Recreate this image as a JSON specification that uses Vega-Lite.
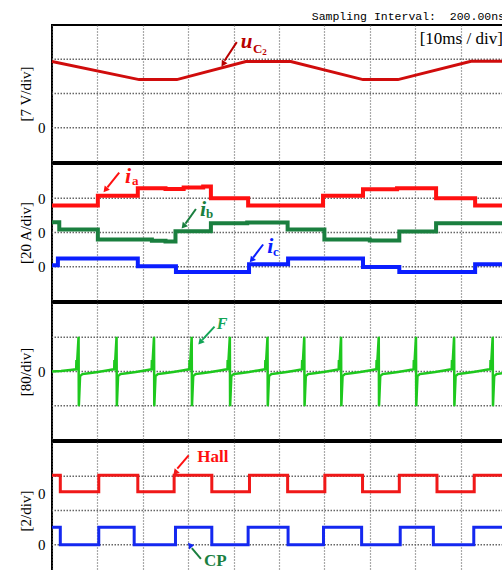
{
  "$schema": "https://vega.github.io/schema/vega-lite/v6.json",
  "padding": {"left": 17, "top": 10, "right": 0, "bottom": 0},
  "title": {"text": "Sampling Interval:\u00a0 200.00ns", "anchor": "end", "font": "Liberation Mono", "fontSize": 11.5, "fontWeight": "normal", "color": "black", "offset": 2, "dx": -10},
  "spacing": 0,
  "config": {
    "view": {"stroke": "black", "strokeWidth": 2},
    "axisX": {"grid": true, "values": [10, 20, 30, 40, 50, 60, 70, 80, 90], "labels": false, "ticks": false, "domain": false, "gridColor": "#555", "gridDash": [1, 2], "gridWidth": 1.2},
    "axisY": {"grid": false, "ticks": false, "domain": false, "labelExpr": "'0'", "titleFont": "Liberation Serif", "titleFontSize": 15, "titleFontWeight": "normal", "titleColor": "black", "labelFont": "Liberation Serif", "labelFontSize": 15, "labelColor": "black", "labelPadding": 7, "titlePadding": 4}
  },
  "datasets": {
    "g1": [{"v": 0}, {"v": 7}, {"v": 14}],
    "g2": [{"v": 0}, {"v": 20}, {"v": 40}],
    "g3": [{"v": -80}, {"v": 0}, {"v": 80}],
    "g4": [{"v": 0}, {"v": 2}, {"v": 4}],
    "uc2": [{"t": 0, "v": 13.55}, {"t": 19.2, "v": 9.84}, {"t": 27.5, "v": 9.84}, {"t": 42.7, "v": 13.55}, {"t": 52.6, "v": 13.55}, {"t": 68.5, "v": 9.84}, {"t": 76.2, "v": 9.84}, {"t": 92.3, "v": 13.6}, {"t": 100, "v": 13.6}],
    "ia": [{"t": 0, "v": 35.7}, {"t": 10.1, "v": 41.4}, {"t": 18.9, "v": 45.9}, {"t": 25, "v": 45.4}, {"t": 29, "v": 46.3}, {"t": 33.3, "v": 46.9}, {"t": 35.0, "v": 40}, {"t": 43.2, "v": 35.7}, {"t": 59.7, "v": 41.4}, {"t": 68.5, "v": 45.3}, {"t": 76, "v": 45.9}, {"t": 84.6, "v": 40}, {"t": 93.2, "v": 35.7}, {"t": 100, "v": 35.7}],
    "ib": [{"t": 0, "v": 26.0}, {"t": 1.6, "v": 21.7}, {"t": 10.1, "v": 15.9}, {"t": 22, "v": 15.2}, {"t": 25, "v": 14.8}, {"t": 27.2, "v": 20.75}, {"t": 35.0, "v": 25.4}, {"t": 43, "v": 25.9}, {"t": 51.9, "v": 21.7}, {"t": 60.0, "v": 15.9}, {"t": 70, "v": 15.3}, {"t": 76.5, "v": 20.6}, {"t": 84.6, "v": 25.4}, {"t": 100, "v": 25.4}],
    "ic": [{"t": 0, "v": 0.9}, {"t": 1.3, "v": 4.75}, {"t": 18.9, "v": 0.3}, {"t": 27.3, "v": -3.0}, {"t": 43.4, "v": 1.45}, {"t": 52.0, "v": 4.75}, {"t": 68.5, "v": -0.1}, {"t": 76.5, "v": -3.0}, {"t": 93.2, "v": 1.45}, {"t": 100, "v": 1.45}],
    "F": [
      {"t": 0, "v": 0}, {"t": 2, "v": 1}, {"t": 4, "v": 3.5},
      {"t": 5.33, "v": 5}, {"t": 5.38, "v": 27}, {"t": 5.46, "v": 7}, {"t": 5.85, "v": 81}, {"t": 5.91, "v": -81}, {"t": 6.18, "v": -11}, {"t": 6.68, "v": -6}, {"t": 8.08, "v": -4}, {"t": 10.08, "v": -1}, {"t": 12.08, "v": 2.5}, {"t": 13.28, "v": 4.5},
      {"t": 13.70, "v": 5}, {"t": 13.75, "v": 27}, {"t": 13.83, "v": 7}, {"t": 14.22, "v": 81}, {"t": 14.28, "v": -81}, {"t": 14.55, "v": -11}, {"t": 15.05, "v": -6}, {"t": 16.45, "v": -4}, {"t": 18.45, "v": -1}, {"t": 20.45, "v": 2.5}, {"t": 21.65, "v": 4.5},
      {"t": 21.95, "v": 5}, {"t": 22.0, "v": 27}, {"t": 22.08, "v": 7}, {"t": 22.47, "v": 81}, {"t": 22.53, "v": -81}, {"t": 22.8, "v": -11}, {"t": 23.3, "v": -6}, {"t": 24.7, "v": -4}, {"t": 26.7, "v": -1}, {"t": 28.7, "v": 2.5}, {"t": 29.9, "v": 4.5},
      {"t": 30.25, "v": 5}, {"t": 30.3, "v": 27}, {"t": 30.38, "v": 7}, {"t": 30.77, "v": 81}, {"t": 30.83, "v": -81}, {"t": 31.1, "v": -11}, {"t": 31.6, "v": -6}, {"t": 33.0, "v": -4}, {"t": 35.0, "v": -1}, {"t": 37.0, "v": 2.5}, {"t": 38.2, "v": 4.5},
      {"t": 38.65, "v": 5}, {"t": 38.7, "v": 27}, {"t": 38.78, "v": 7}, {"t": 39.17, "v": 81}, {"t": 39.23, "v": -81}, {"t": 39.5, "v": -11}, {"t": 40.0, "v": -6}, {"t": 41.4, "v": -4}, {"t": 43.4, "v": -1}, {"t": 45.4, "v": 2.5}, {"t": 46.6, "v": 4.5},
      {"t": 46.95, "v": 5}, {"t": 47.0, "v": 27}, {"t": 47.08, "v": 7}, {"t": 47.47, "v": 81}, {"t": 47.53, "v": -81}, {"t": 47.8, "v": -11}, {"t": 48.3, "v": -6}, {"t": 49.7, "v": -4}, {"t": 51.7, "v": -1}, {"t": 53.7, "v": 2.5}, {"t": 54.9, "v": 4.5},
      {"t": 55.05, "v": 5}, {"t": 55.1, "v": 27}, {"t": 55.18, "v": 7}, {"t": 55.57, "v": 81}, {"t": 55.63, "v": -81}, {"t": 55.9, "v": -11}, {"t": 56.4, "v": -6}, {"t": 57.8, "v": -4}, {"t": 59.8, "v": -1}, {"t": 61.8, "v": 2.5}, {"t": 63.0, "v": 4.5},
      {"t": 63.15, "v": 5}, {"t": 63.2, "v": 27}, {"t": 63.28, "v": 7}, {"t": 63.67, "v": 81}, {"t": 63.73, "v": -81}, {"t": 64.0, "v": -11}, {"t": 64.5, "v": -6}, {"t": 65.9, "v": -4}, {"t": 67.9, "v": -1}, {"t": 69.9, "v": 2.5}, {"t": 71.1, "v": 4.5},
      {"t": 71.45, "v": 5}, {"t": 71.5, "v": 27}, {"t": 71.58, "v": 7}, {"t": 71.97, "v": 81}, {"t": 72.03, "v": -81}, {"t": 72.3, "v": -11}, {"t": 72.8, "v": -6}, {"t": 74.2, "v": -4}, {"t": 76.2, "v": -1}, {"t": 78.2, "v": 2.5}, {"t": 79.4, "v": 4.5},
      {"t": 79.65, "v": 5}, {"t": 79.7, "v": 27}, {"t": 79.78, "v": 7}, {"t": 80.17, "v": 81}, {"t": 80.23, "v": -81}, {"t": 80.5, "v": -11}, {"t": 81.0, "v": -6}, {"t": 82.4, "v": -4}, {"t": 84.4, "v": -1}, {"t": 86.4, "v": 2.5}, {"t": 87.6, "v": 4.5},
      {"t": 88.05, "v": 5}, {"t": 88.1, "v": 27}, {"t": 88.18, "v": 7}, {"t": 88.57, "v": 81}, {"t": 88.63, "v": -81}, {"t": 88.9, "v": -11}, {"t": 89.4, "v": -6}, {"t": 90.8, "v": -4}, {"t": 92.8, "v": -1}, {"t": 94.8, "v": 2.5}, {"t": 96.0, "v": 4.5},
      {"t": 96.55, "v": 5}, {"t": 96.6, "v": 27}, {"t": 96.68, "v": 7}, {"t": 97.07, "v": 81}, {"t": 97.13, "v": -81}, {"t": 97.4, "v": -11}, {"t": 97.9, "v": -6}, {"t": 99.3, "v": -4}, {"t": 100, "v": -3}
    ],
    "hall": [{"t": 0, "v": 4.06}, {"t": 1.83, "v": 3.09}, {"t": 10.3, "v": 4.06}, {"t": 18.9, "v": 3.09}, {"t": 26.9, "v": 4.06}, {"t": 35.2, "v": 3.09}, {"t": 43.5, "v": 4.06}, {"t": 51.9, "v": 3.09}, {"t": 60.1, "v": 4.06}, {"t": 68.4, "v": 3.09}, {"t": 76.5, "v": 4.06}, {"t": 84.8, "v": 3.09}, {"t": 93.0, "v": 4.06}, {"t": 100, "v": 4.06}],
    "cp": [{"t": 0, "v": 1.02}, {"t": 1.83, "v": 0}, {"t": 10.3, "v": 1.02}, {"t": 18.1, "v": 0}, {"t": 27.2, "v": 1.02}, {"t": 35.2, "v": 0}, {"t": 43.2, "v": 1.02}, {"t": 52.0, "v": 0}, {"t": 59.8, "v": 1.02}, {"t": 68.2, "v": 0}, {"t": 76.7, "v": 1.02}, {"t": 84.0, "v": 0}, {"t": 92.9, "v": 1.02}, {"t": 100, "v": 1.02}]
  },
  "vconcat": [
    {
      "width": 454, "height": 137,
      "layer": [
        {"data": {"name": "g1"}, "mark": {"type": "rule", "color": "#666", "strokeDash": [1.5, 1.5], "strokeWidth": 1.3},
         "encoding": {"y": {"field": "v", "type": "quantitative", "scale": {"domain": [-7, 21], "nice": false, "zero": false}, "axis": {"values": [0], "title": "[7 V/div]"}}}},
        {"data": {"name": "uc2"}, "mark": {"type": "line", "color": "#d00c0c", "strokeWidth": 3},
         "encoding": {"x": {"field": "t", "type": "quantitative", "scale": {"domain": [0, 100], "nice": false, "zero": false}, "axis": {"title": null}},
                      "y": {"field": "v", "type": "quantitative", "scale": {"domain": [-7, 21], "nice": false, "zero": false}, "axis": {"values": [0], "title": "[7 V/div]"}}}},
        {"data": {"values": [{"t": 99.3, "v": 17.1, "txt": "[10ms / div]"}]}, "mark": {"type": "text", "align": "right", "baseline": "alphabetic", "font": "Liberation Serif", "fontSize": 17, "color": "black"},
         "encoding": {"x": {"field": "t", "type": "quantitative", "scale": {"domain": [0, 100], "nice": false, "zero": false}, "axis": {"title": null}}, "y": {"field": "v", "type": "quantitative", "scale": {"domain": [-7, 21], "nice": false, "zero": false}, "axis": {"values": [0], "title": "[7 V/div]"}}, "text": {"field": "txt"}}},
        {"data": {"values": [{"t": 41.6, "v": 16.2, "txt": "u"}]}, "mark": {"type": "text", "align": "left", "baseline": "alphabetic", "font": "Liberation Serif", "fontSize": 21, "fontWeight": "bold", "fontStyle": "italic", "color": "#b80000"},
         "encoding": {"x": {"field": "t", "type": "quantitative", "scale": {"domain": [0, 100], "nice": false, "zero": false}, "axis": {"title": null}}, "y": {"field": "v", "type": "quantitative", "scale": {"domain": [-7, 21], "nice": false, "zero": false}, "axis": {"values": [0], "title": "[7 V/div]"}}, "text": {"field": "txt"}}},
        {"data": {"values": [{"t": 44.3, "v": 15.2, "txt": "C"}]}, "mark": {"type": "text", "align": "left", "baseline": "alphabetic", "font": "Liberation Serif", "fontSize": 13, "fontWeight": "bold", "color": "#b80000"},
         "encoding": {"x": {"field": "t", "type": "quantitative", "scale": {"domain": [0, 100], "nice": false, "zero": false}, "axis": {"title": null}}, "y": {"field": "v", "type": "quantitative", "scale": {"domain": [-7, 21], "nice": false, "zero": false}, "axis": {"values": [0], "title": "[7 V/div]"}}, "text": {"field": "txt"}}},
        {"data": {"values": [{"t": 46.3, "v": 14.8, "txt": "2"}]}, "mark": {"type": "text", "align": "left", "baseline": "alphabetic", "font": "Liberation Serif", "fontSize": 9, "fontWeight": "bold", "color": "#b80000"},
         "encoding": {"x": {"field": "t", "type": "quantitative", "scale": {"domain": [0, 100], "nice": false, "zero": false}, "axis": {"title": null}}, "y": {"field": "v", "type": "quantitative", "scale": {"domain": [-7, 21], "nice": false, "zero": false}, "axis": {"values": [0], "title": "[7 V/div]"}}, "text": {"field": "txt"}}},
        {"data": {"values": [{"t": 40.7, "v": 17.5, "t2": 38.0, "v2": 13.7}]}, "mark": {"type": "rule", "color": "#b80000", "strokeWidth": 2},
         "encoding": {"x": {"field": "t", "type": "quantitative", "scale": {"domain": [0, 100], "nice": false, "zero": false}, "axis": {"title": null}}, "y": {"field": "v", "type": "quantitative", "scale": {"domain": [-7, 21], "nice": false, "zero": false}, "axis": {"values": [0], "title": "[7 V/div]"}}, "x2": {"field": "t2"}, "y2": {"field": "v2"}}},
        {"data": {"values": [{"t": 37.8, "v": 13.2}]}, "mark": {"type": "point", "shape": "triangle", "filled": true, "opacity": 1, "size": 45, "angle": 213, "color": "#b80000"},
         "encoding": {"x": {"field": "t", "type": "quantitative", "scale": {"domain": [0, 100], "nice": false, "zero": false}, "axis": {"title": null}}, "y": {"field": "v", "type": "quantitative", "scale": {"domain": [-7, 21], "nice": false, "zero": false}, "axis": {"values": [0], "title": "[7 V/div]"}}}}
      ]
    },
    {
      "width": 454, "height": 137,
      "layer": [
        {"data": {"name": "g2"}, "mark": {"type": "rule", "color": "#666", "strokeDash": [1.5, 1.5], "strokeWidth": 1.3},
         "encoding": {"y": {"field": "v", "type": "quantitative", "scale": {"domain": [-20, 60], "nice": false, "zero": false}, "axis": {"values": [0, 20, 40], "title": "[20 A/div]"}}}},
        {"data": {"name": "ia"}, "mark": {"type": "line", "interpolate": "step-after", "color": "#ff1010", "strokeWidth": 4},
         "encoding": {"x": {"field": "t", "type": "quantitative", "scale": {"domain": [0, 100], "nice": false, "zero": false}, "axis": {"title": null}},
                      "y": {"field": "v", "type": "quantitative", "scale": {"domain": [-20, 60], "nice": false, "zero": false}, "axis": {"values": [0, 20, 40], "title": "[20 A/div]"}}}},
        {"data": {"name": "ib"}, "mark": {"type": "line", "interpolate": "step-after", "color": "#1a7f3f", "strokeWidth": 4},
         "encoding": {"x": {"field": "t", "type": "quantitative", "scale": {"domain": [0, 100], "nice": false, "zero": false}, "axis": {"title": null}},
                      "y": {"field": "v", "type": "quantitative", "scale": {"domain": [-20, 60], "nice": false, "zero": false}, "axis": {"values": [0, 20, 40], "title": "[20 A/div]"}}}},
        {"data": {"name": "ic"}, "mark": {"type": "line", "interpolate": "step-after", "color": "#0a1eff", "strokeWidth": 4},
         "encoding": {"x": {"field": "t", "type": "quantitative", "scale": {"domain": [0, 100], "nice": false, "zero": false}, "axis": {"title": null}},
                      "y": {"field": "v", "type": "quantitative", "scale": {"domain": [-20, 60], "nice": false, "zero": false}, "axis": {"values": [0, 20, 40], "title": "[20 A/div]"}}}},
        {"data": {"values": [{"t": 16.1, "v": 49.0, "txt": "i", "c": "a"}, {"t": 32.6, "v": 29.9, "txt": "i", "c": "b"}, {"t": 47.4, "v": 7.8, "txt": "i", "c": "c"}]}, "mark": {"type": "text", "align": "left", "baseline": "alphabetic", "font": "Liberation Serif", "fontSize": 22, "fontWeight": "bold", "fontStyle": "italic"},
         "encoding": {"x": {"field": "t", "type": "quantitative", "scale": {"domain": [0, 100], "nice": false, "zero": false}, "axis": {"title": null}}, "y": {"field": "v", "type": "quantitative", "scale": {"domain": [-20, 60], "nice": false, "zero": false}, "axis": {"values": [0, 20, 40], "title": "[20 A/div]"}}, "text": {"field": "txt"},
                      "color": {"field": "c", "type": "nominal", "scale": {"domain": ["a", "b", "c"], "range": ["#ff1010", "#1a7f3f", "#0a1eff"]}, "legend": null}}},
        {"data": {"values": [{"t": 17.6, "v": 47.8, "txt": "a", "c": "a"}, {"t": 33.9, "v": 28.7, "txt": "b", "c": "b"}, {"t": 48.7, "v": 6.1, "txt": "c", "c": "c"}]}, "mark": {"type": "text", "align": "left", "baseline": "alphabetic", "font": "Liberation Serif", "fontSize": 13, "fontWeight": "bold"},
         "encoding": {"x": {"field": "t", "type": "quantitative", "scale": {"domain": [0, 100], "nice": false, "zero": false}, "axis": {"title": null}}, "y": {"field": "v", "type": "quantitative", "scale": {"domain": [-20, 60], "nice": false, "zero": false}, "axis": {"values": [0, 20, 40], "title": "[20 A/div]"}}, "text": {"field": "txt"},
                      "color": {"field": "c", "type": "nominal", "scale": {"domain": ["a", "b", "c"], "range": ["#ff1010", "#1a7f3f", "#0a1eff"]}, "legend": null}}},
        {"data": {"values": [{"t": 14.8, "v": 54.96, "t2": 12.2, "v2": 46.4, "c": "a"}, {"t": 31.7, "v": 33.7, "t2": 29.4, "v2": 25.2, "c": "b"}, {"t": 46.5, "v": 13.0, "t2": 44.3, "v2": 5.3, "c": "c"}]}, "mark": {"type": "rule", "strokeWidth": 2},
         "encoding": {"x": {"field": "t", "type": "quantitative", "scale": {"domain": [0, 100], "nice": false, "zero": false}, "axis": {"title": null}}, "y": {"field": "v", "type": "quantitative", "scale": {"domain": [-20, 60], "nice": false, "zero": false}, "axis": {"values": [0, 20, 40], "title": "[20 A/div]"}}, "x2": {"field": "t2"}, "y2": {"field": "v2"},
                      "color": {"field": "c", "type": "nominal", "scale": {"domain": ["a", "b", "c"], "range": ["#ff1010", "#1a7f3f", "#0a1eff"]}, "legend": null}}},
        {"data": {"values": [{"t": 11.9, "v": 45.3, "c": "a"}, {"t": 29.1, "v": 24.1, "c": "b"}, {"t": 44.1, "v": 4.3, "c": "c"}]}, "mark": {"type": "point", "shape": "triangle", "filled": true, "opacity": 1, "size": 45, "angle": 220},
         "encoding": {"x": {"field": "t", "type": "quantitative", "scale": {"domain": [0, 100], "nice": false, "zero": false}, "axis": {"title": null}}, "y": {"field": "v", "type": "quantitative", "scale": {"domain": [-20, 60], "nice": false, "zero": false}, "axis": {"values": [0, 20, 40], "title": "[20 A/div]"}},
                      "color": {"field": "c", "type": "nominal", "scale": {"domain": ["a", "b", "c"], "range": ["#ff1010", "#1a7f3f", "#0a1eff"]}, "legend": null}}}
      ]
    },
    {
      "width": 454, "height": 137,
      "layer": [
        {"data": {"name": "g3"}, "mark": {"type": "rule", "color": "#666", "strokeDash": [1.5, 1.5], "strokeWidth": 1.3},
         "encoding": {"y": {"field": "v", "type": "quantitative", "scale": {"domain": [-160, 160], "nice": false, "zero": false}, "axis": {"values": [0], "title": "[80/div]"}}}},
        {"data": {"name": "F"}, "mark": {"type": "line", "color": "#1ec81e", "strokeWidth": 2.5},
         "encoding": {"x": {"field": "t", "type": "quantitative", "scale": {"domain": [0, 100], "nice": false, "zero": false}, "axis": {"title": null}},
                      "y": {"field": "v", "type": "quantitative", "scale": {"domain": [-160, 160], "nice": false, "zero": false}, "axis": {"values": [0], "title": "[80/div]"}}}},
        {"data": {"values": [{"t": 36.3, "v": 98.6, "txt": "F"}]}, "mark": {"type": "text", "align": "left", "baseline": "alphabetic", "font": "Liberation Serif", "fontSize": 16, "fontWeight": "bold", "fontStyle": "italic", "color": "#12a556"},
         "encoding": {"x": {"field": "t", "type": "quantitative", "scale": {"domain": [0, 100], "nice": false, "zero": false}, "axis": {"title": null}}, "y": {"field": "v", "type": "quantitative", "scale": {"domain": [-160, 160], "nice": false, "zero": false}, "axis": {"values": [0], "title": "[80/div]"}}, "text": {"field": "txt"}}},
        {"data": {"values": [{"t": 35.8, "v": 104.8, "t2": 33.1, "v2": 74.0}]}, "mark": {"type": "rule", "color": "#12a556", "strokeWidth": 2},
         "encoding": {"x": {"field": "t", "type": "quantitative", "scale": {"domain": [0, 100], "nice": false, "zero": false}, "axis": {"title": null}}, "y": {"field": "v", "type": "quantitative", "scale": {"domain": [-160, 160], "nice": false, "zero": false}, "axis": {"values": [0], "title": "[80/div]"}}, "x2": {"field": "t2"}, "y2": {"field": "v2"}}},
        {"data": {"values": [{"t": 32.8, "v": 70.0}]}, "mark": {"type": "point", "shape": "triangle", "filled": true, "opacity": 1, "size": 45, "angle": 222, "color": "#12a556"},
         "encoding": {"x": {"field": "t", "type": "quantitative", "scale": {"domain": [0, 100], "nice": false, "zero": false}, "axis": {"title": null}}, "y": {"field": "v", "type": "quantitative", "scale": {"domain": [-160, 160], "nice": false, "zero": false}, "axis": {"values": [0], "title": "[80/div]"}}}}
      ]
    },
    {
      "width": 454, "height": 137,
      "layer": [
        {"data": {"name": "g4"}, "mark": {"type": "rule", "color": "#666", "strokeDash": [1.5, 1.5], "strokeWidth": 1.3},
         "encoding": {"y": {"field": "v", "type": "quantitative", "scale": {"domain": [-2, 6], "nice": false, "zero": false}, "axis": {"values": [0, 3], "title": "[2/div]"}}}},
        {"data": {"name": "hall"}, "mark": {"type": "line", "interpolate": "step-after", "color": "#f01818", "strokeWidth": 3},
         "encoding": {"x": {"field": "t", "type": "quantitative", "scale": {"domain": [0, 100], "nice": false, "zero": false}, "axis": {"title": null}},
                      "y": {"field": "v", "type": "quantitative", "scale": {"domain": [-2, 6], "nice": false, "zero": false}, "axis": {"values": [0, 3], "title": "[2/div]"}}}},
        {"data": {"name": "cp"}, "mark": {"type": "line", "interpolate": "step-after", "color": "#1428f0", "strokeWidth": 3},
         "encoding": {"x": {"field": "t", "type": "quantitative", "scale": {"domain": [0, 100], "nice": false, "zero": false}, "axis": {"title": null}},
                      "y": {"field": "v", "type": "quantitative", "scale": {"domain": [-2, 6], "nice": false, "zero": false}, "axis": {"values": [0, 3], "title": "[2/div]"}}}},
        {"data": {"values": [{"t": 32.0, "v": 4.83, "txt": "Hall", "c": "h"}, {"t": 33.5, "v": -1.25, "txt": "CP", "c": "p"}]}, "mark": {"type": "text", "align": "left", "baseline": "alphabetic", "font": "Liberation Serif", "fontSize": 17, "fontWeight": "bold"},
         "encoding": {"x": {"field": "t", "type": "quantitative", "scale": {"domain": [0, 100], "nice": false, "zero": false}, "axis": {"title": null}}, "y": {"field": "v", "type": "quantitative", "scale": {"domain": [-2, 6], "nice": false, "zero": false}, "axis": {"values": [0, 3], "title": "[2/div]"}}, "text": {"field": "txt"},
                      "color": {"field": "c", "type": "nominal", "scale": {"domain": ["h", "p"], "range": ["#f01818", "#1428f0"]}, "legend": null}}},
        {"data": {"values": [{"t": 30.1, "v": 5.22, "t2": 27.6, "v2": 4.45, "c": "h"}, {"t": 32.8, "v": -0.83, "t2": 30.8, "v2": -0.2, "c": "p"}]}, "mark": {"type": "rule", "strokeWidth": 2},
         "encoding": {"x": {"field": "t", "type": "quantitative", "scale": {"domain": [0, 100], "nice": false, "zero": false}, "axis": {"title": null}}, "y": {"field": "v", "type": "quantitative", "scale": {"domain": [-2, 6], "nice": false, "zero": false}, "axis": {"values": [0, 3], "title": "[2/div]"}}, "x2": {"field": "t2"}, "y2": {"field": "v2"},
                      "color": {"field": "c", "type": "nominal", "scale": {"domain": ["h", "p"], "range": ["#f01818", "#1428f0"]}, "legend": null}}},
        {"data": {"values": [{"t": 27.3, "v": 4.25}]}, "mark": {"type": "point", "shape": "triangle", "filled": true, "opacity": 1, "size": 45, "angle": 220, "color": "#f01818"},
         "encoding": {"x": {"field": "t", "type": "quantitative", "scale": {"domain": [0, 100], "nice": false, "zero": false}, "axis": {"title": null}}, "y": {"field": "v", "type": "quantitative", "scale": {"domain": [-2, 6], "nice": false, "zero": false}, "axis": {"values": [0, 3], "title": "[2/div]"}}}},
        {"data": {"values": [{"t": 30.5, "v": -0.06}]}, "mark": {"type": "point", "shape": "triangle", "filled": true, "opacity": 1, "size": 45, "angle": 320, "color": "#1428f0"},
         "encoding": {"x": {"field": "t", "type": "quantitative", "scale": {"domain": [0, 100], "nice": false, "zero": false}, "axis": {"title": null}}, "y": {"field": "v", "type": "quantitative", "scale": {"domain": [-2, 6], "nice": false, "zero": false}, "axis": {"values": [0, 3], "title": "[2/div]"}}}}
      ]
    }
  ]
}
